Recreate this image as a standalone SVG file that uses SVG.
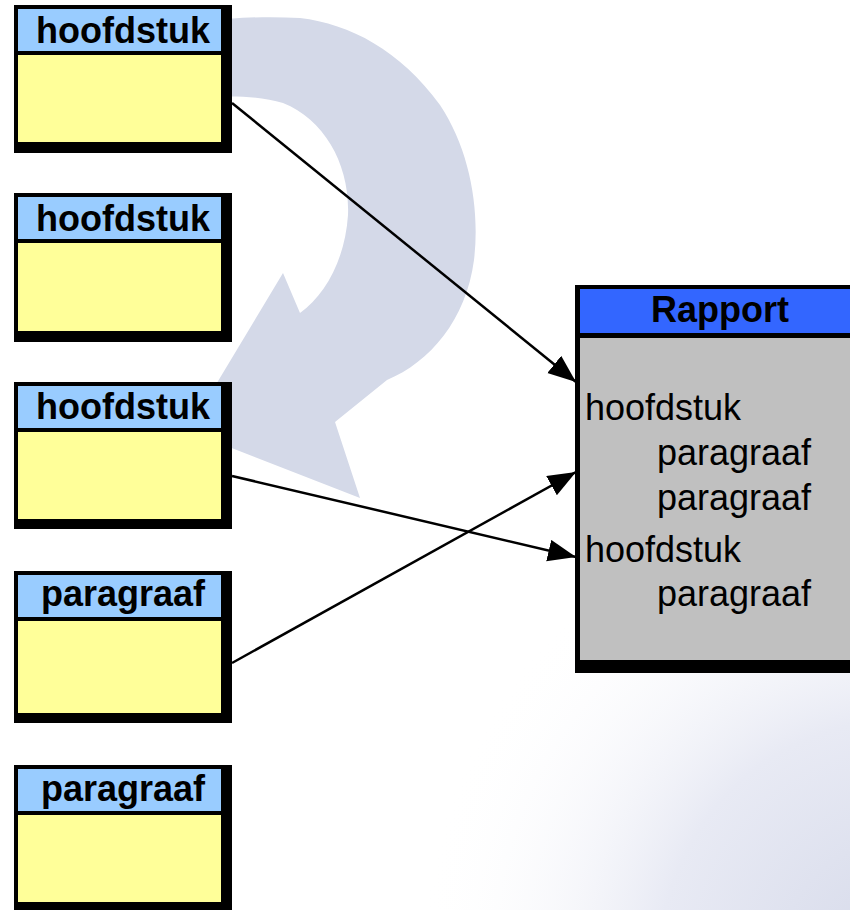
<svg xmlns="http://www.w3.org/2000/svg" width="850" height="910" viewBox="0 0 850 910">
<defs>
  <radialGradient id="bg" cx="900" cy="960" r="480" gradientUnits="userSpaceOnUse">
    <stop offset="0" stop-color="#d6daea"/>
    <stop offset="0.5" stop-color="#e8eaf4"/>
    <stop offset="1" stop-color="#ffffff" stop-opacity="0"/>
  </radialGradient>
  <marker id="ah" markerUnits="userSpaceOnUse" markerWidth="30" markerHeight="24" refX="28" refY="11" orient="auto">
    <path d="M0,0 L28,11 L0,22 z" fill="#000"/>
  </marker>
  <style>
    .frame{fill:#000}
    .hdr{fill:#99ccff}
    .body{fill:#ffff99}
    .lbl{font-family:"Liberation Sans",Arial,sans-serif;font-weight:bold;font-size:36px;fill:#000;text-anchor:middle}
    .txt{font-family:"Liberation Sans",Arial,sans-serif;font-size:36px;fill:#000}
    .conn{stroke:#000;stroke-width:2.5;fill:none;marker-end:url(#ah)}
  </style>
</defs>
<rect width="850" height="910" fill="#fff"/>
<rect width="850" height="910" fill="url(#bg)"/>
<g id="watermark">
  <path fill="#d4d9e8" d="M150,30 C200,20 250,15 300,18 C350,24 400,50 440,105 C470,150 480,210 474,260 C466,320 430,362 387,380 L335,422 L360,498 L188,431 L283,273 L300,313 C325,295 345,260 348,215 C350,165 325,120 283,103 C250,93 200,95 150,105 Z"/>
</g>
<g id="box1">
  <rect class="frame" x="14" y="5" width="218" height="148"/>
  <rect class="hdr" x="18" y="9" width="203" height="42"/>
  <rect class="body" x="18" y="55" width="203" height="87"/>
  <text class="lbl" x="123" y="43">hoofdstuk</text>
</g>
<g id="box2">
  <rect class="frame" x="14" y="193" width="218" height="149"/>
  <rect class="hdr" x="18" y="197" width="203" height="42"/>
  <rect class="body" x="18" y="243" width="203" height="88"/>
  <text class="lbl" x="123" y="231">hoofdstuk</text>
</g>
<g id="box3">
  <rect class="frame" x="14" y="382" width="218" height="147"/>
  <rect class="hdr" x="18" y="386" width="203" height="42"/>
  <rect class="body" x="18" y="432" width="203" height="87"/>
  <text class="lbl" x="123" y="419">hoofdstuk</text>
</g>
<g id="box4">
  <rect class="frame" x="14" y="571" width="218" height="152"/>
  <rect class="hdr" x="18" y="575" width="203" height="42"/>
  <rect class="body" x="18" y="621" width="203" height="92"/>
  <text class="lbl" x="123" y="606">paragraaf</text>
</g>
<g id="box5">
  <rect class="frame" x="14" y="765" width="218" height="145"/>
  <rect class="hdr" x="18" y="769" width="203" height="42"/>
  <rect class="body" x="18" y="815" width="203" height="87"/>
  <text class="lbl" x="123" y="801">paragraaf</text>
</g>
<g id="rapport">
  <rect class="frame" x="575" y="285" width="280" height="388"/>
  <rect fill="#3366ff" x="580" y="289" width="275" height="44"/>
  <rect fill="#c0c0c0" x="580" y="338" width="275" height="322"/>
  <text class="lbl" x="720" y="322">Rapport</text>
  <text class="txt" x="585" y="420">hoofdstuk</text>
  <text class="txt" x="657" y="465">paragraaf</text>
  <text class="txt" x="657" y="510">paragraaf</text>
  <text class="txt" x="585" y="562">hoofdstuk</text>
  <text class="txt" x="657" y="606">paragraaf</text>
</g>
<g id="connectors">
  <line class="conn" x1="232" y1="103" x2="576" y2="382"/>
  <line class="conn" x1="232" y1="476" x2="576" y2="557"/>
  <line class="conn" x1="232" y1="663" x2="576" y2="472"/>
</g>
</svg>
